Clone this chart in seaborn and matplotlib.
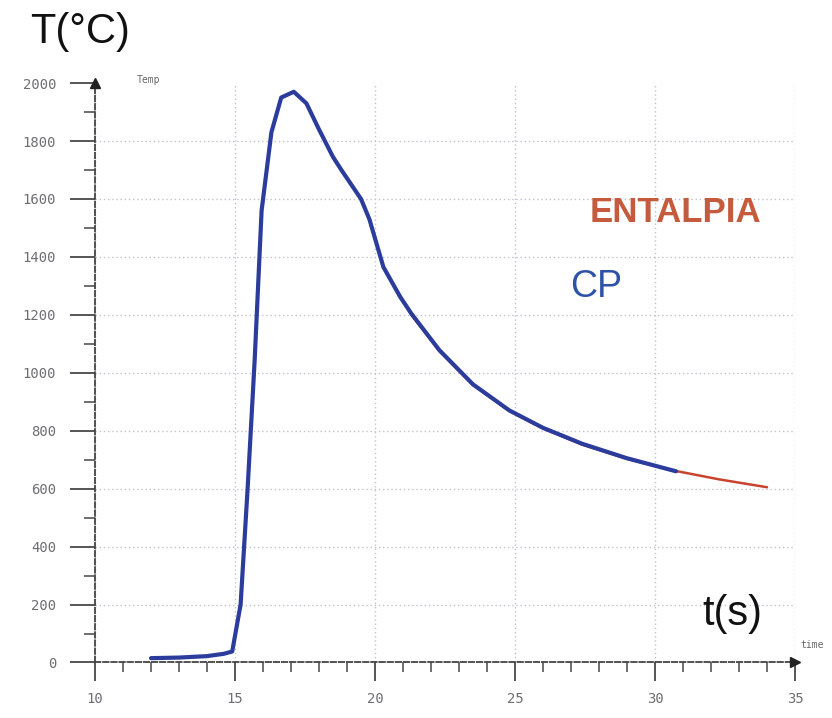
import numpy as np
import pandas as pd
import seaborn as sns
import matplotlib.pyplot as plt
from matplotlib.ticker import MultipleLocator

# CP curve (blue)
cp_time = [12.0, 13.0, 14.0, 14.6, 14.9, 15.2, 15.45, 15.7, 15.95, 16.3, 16.65,
           17.1, 17.55, 18.0, 18.5, 18.8, 19.5, 19.8, 20.3, 20.9, 21.3, 22.3,
           23.5, 24.8, 26.0, 27.4, 29.0, 30.75]
cp_temp = [15, 17, 22, 30, 38, 200, 600, 1040, 1560, 1830, 1950,
           1970, 1930, 1840, 1745, 1700, 1600, 1530, 1365, 1262, 1204, 1078,
           960, 870, 810, 755, 705, 660]

# ENTALPIA curve (red), mostly hidden under the blue one
ent_time = [20.5, 21.3, 22.3, 23.5, 24.8, 26.0, 27.4, 29.0, 30.7, 32.3, 34.0]
ent_temp = [1330, 1200, 1075, 958, 868, 808, 752, 703, 662, 632, 605]

x_ticks = [10, 15, 20, 25, 30, 35]
y_ticks = [0, 200, 400, 600, 800, 1000, 1200, 1400, 1600, 1800, 2000]

sns.set_style("white")
plt.rcParams['font.family'] = ['Liberation Sans', 'DejaVu Sans']

fig = plt.figure(figsize=(8.32, 7.18), dpi=100)
ax = fig.add_axes([0.1142, 0.0773, 0.8413, 0.807])

df_cp = pd.DataFrame({"t": cp_time, "T": cp_temp})
df_ent = pd.DataFrame({"t": ent_time, "T": ent_temp})

sns.lineplot(data=df_ent, x="t", y="T", ax=ax, color="#c8442e", lw=1.8,
             sort=False, zorder=3)
sns.lineplot(data=df_cp, x="t", y="T", ax=ax, color="#2b3c9c", lw=3.0,
             sort=False, zorder=4)

ax.set_xlim(10, 35)
ax.set_ylim(0, 2000)
ax.set_xticks(x_ticks)
ax.set_yticks(y_ticks)
ax.xaxis.set_minor_locator(MultipleLocator(1))
ax.yaxis.set_minor_locator(MultipleLocator(100))
ax.set_xlabel("")
ax.set_ylabel("")

mono = {"family": "DejaVu Sans Mono", "size": 10}
ax.set_xticklabels([str(v) for v in x_ticks], fontdict=mono, color="#6e6e74")
ax.set_yticklabels([str(v) for v in y_ticks], fontdict=mono, color="#6e6e74")

ax.tick_params(axis="y", which="major", direction="out", length=18, width=1.4,
               color="#555555", pad=10, left=True)
ax.tick_params(axis="y", which="minor", direction="out", length=8, width=1.2,
               color="#555555", left=True)
ax.tick_params(axis="x", which="major", direction="out", length=14, width=1.4,
               color="#555555", pad=7, bottom=True)
ax.tick_params(axis="x", which="minor", direction="out", length=7, width=1.2,
               color="#555555", bottom=True)

# dotted grid
ax.grid(True, which="major", linestyle=(0, (1, 2)), color="#bfc3cf", lw=1.0)
ax.get_ygridlines()[-1].set_visible(False)

for side in ["top", "right"]:
    ax.spines[side].set_visible(False)
for side in ["left", "bottom"]:
    ax.spines[side].set_linestyle((0, (3, 1.5)))
    ax.spines[side].set_color("#444444")
    ax.spines[side].set_linewidth(1.3)

# axis arrows
ax.plot([10], [2000], marker="^", color="#222222", ms=7, clip_on=False, zorder=5)
ax.plot([35], [0], marker=">", color="#222222", ms=7, clip_on=False, zorder=5)

ax.text(11.9, 2010, "Temp", fontdict={"family": "DejaVu Sans Mono", "size": 7},
        color="#666666", ha="center", va="center")
ax.text(35.2, 60, "time", fontdict={"family": "DejaVu Sans Mono", "size": 7},
        color="#666666", ha="left", va="center", clip_on=False)

fig.text(0.036, 0.955, "T(°C)", fontsize=30, color="#111111",
         ha="left", va="center")
ax.text(0.829, 0.777, "ENTALPIA", transform=ax.transAxes, fontsize=25,
        fontweight="bold", color="#c55a3c", ha="center", va="center")
ax.text(0.716, 0.648, "CP", transform=ax.transAxes, fontsize=27,
        color="#2e52a8", ha="center", va="center")
ax.text(0.91, 0.084, "t(s)", transform=ax.transAxes, fontsize=30,
        color="#111111", ha="center", va="center")

fig.savefig("out.png", dpi=100)
